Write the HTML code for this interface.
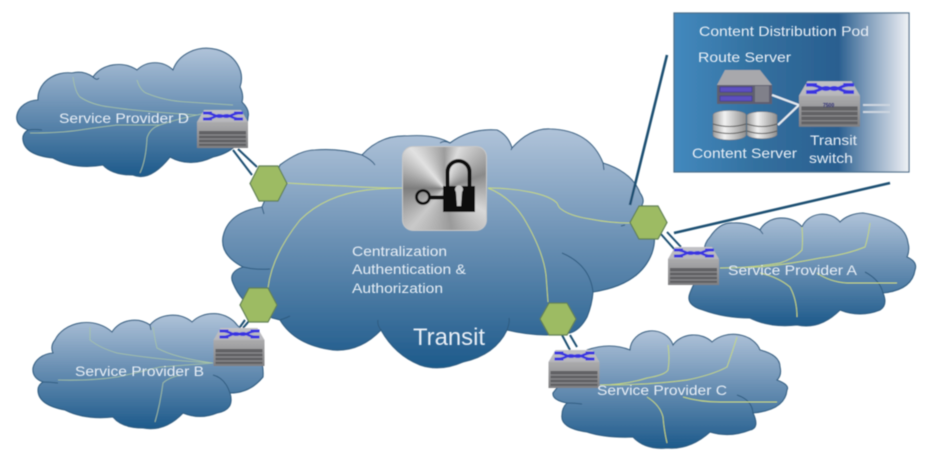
<!DOCTYPE html>
<html><head><meta charset="utf-8"><style>
html,body{margin:0;padding:0;background:#fff;width:929px;height:450px;overflow:hidden}
#w{position:relative;width:929px;height:450px}
svg{position:absolute;left:0;top:0}
text{font-family:"Liberation Sans",sans-serif;fill:#e9eff6}
.c{fill:url(#cg);stroke:#2f5c80;stroke-width:1.1}
.i{fill:none;stroke:#2f5c80;stroke-width:1}
.y{fill:none;stroke:#c6d87c;stroke-width:.95}
.f{fill:none;stroke:#a9c6a4;stroke-width:.8}
.h{fill:#9dbb63;stroke:#5f7f55;stroke-width:1.2}
.l{stroke:#1f4f72;fill:none}
</style></head><body><div id="w">
<svg width="929" height="450" viewBox="0 0 929 450" xmlns="http://www.w3.org/2000/svg">
<defs>
<linearGradient id="cg" x1="0" y1="0" x2="0" y2="1"><stop offset="0" stop-color="#b0c3d9"/><stop offset=".45" stop-color="#6d92b5"/><stop offset="1" stop-color="#1d5a8b"/></linearGradient>
<linearGradient id="pod" x1="0" y1="0" x2="1" y2="0"><stop offset="0" stop-color="#4389be"/><stop offset=".35" stop-color="#33709f"/><stop offset=".7" stop-color="#2a5f90"/><stop offset=".82" stop-color="#7f9cba"/><stop offset="1" stop-color="#f0f2f6"/></linearGradient>
<linearGradient id="sf" x1="0" y1="0" x2="0" y2="1"><stop offset="0" stop-color="#ababad"/><stop offset="1" stop-color="#808082"/></linearGradient>
<linearGradient id="st" x1="0" y1="0" x2="0" y2="1"><stop offset="0" stop-color="#c2c2c6"/><stop offset="1" stop-color="#9e9ea2"/></linearGradient>
<linearGradient id="db" x1="0" y1="0" x2="1" y2="0"><stop offset="0" stop-color="#9a9a9a"/><stop offset=".35" stop-color="#f2f2f2"/><stop offset="1" stop-color="#8f8f8f"/></linearGradient>
<filter id="b" x="-5%" y="-5%" width="110%" height="110%"><feGaussianBlur stdDeviation=".6"/></filter>
<symbol id="sw" viewBox="0 0 51 38">
<path d="M7 0H44L51 12V36H0V12Z" fill="url(#st)"/>
<rect x="0" y="12" width="51" height="26" fill="url(#sf)"/>
<rect x="2" y="21" width="47" height="15" fill="#626265"/>
<path d="M2 25H49M2 29H49M2 33H49" stroke="#8f8f91" stroke-width=".9"/>
<path d="M8 3C19 3 19 9 26 6C33 3 33 9 44 9M8 9C19 9 19 3 26 6C33 9 33 3 44 3" fill="none" stroke="#3b35e0" stroke-width="2.4"/>
<path d="M6 3H15M6 9H15M37 3H46M37 9H46" stroke="#3b35e0" stroke-width="3"/>
</symbol>
</defs>
<g filter="url(#b)">
<!-- Cloud D -->
<path class="c" d="M17 115A22 18 0 0 1 38 100A30 26 0 0 1 72 73A26 26 0 0 1 93 77A30 26 0 0 1 137 70A26 26 0 0 1 173 70A30 26 0 0 1 240 87Q244 95 242 102Q250 110 248 117Q245 150 213 157Q190 168 170 157Q150 182 133 175Q112 175 103 165Q75 170 53 158Q25 155 23 140Q22 134 28 130Q15 125 17 115Z"/>
<path class="i" d="M28 130Q35 129 42 130M93 77Q97 81 99 78"/>
<path class="f" d="M73 77Q75 92 80 97Q92 105 110 107Q135 111 197 115M137 80Q140 90 146 93Q165 101 187 102L233 105M30 133Q60 133 80 130Q100 127 117 125Q140 125 160 125Q180 118 207 113M140 173Q146 160 147 138Q150 128 160 125"/>
<!-- Cloud B -->
<path class="c" d="M33 368A22 18 0 0 1 53 353Q50 346 55 340A34 28 0 0 1 112 332A26 24 0 0 1 150 325A28 24 0 0 1 192 322A28 24 0 0 1 237 325Q265 350 263 377Q250 393 230 393Q235 410 217 413Q200 420 183 413Q165 432 143 428Q122 428 113 417Q85 420 65 410Q38 405 38 390Q38 385 43 382Q32 378 33 368Z"/>
<path class="i" d="M43 382Q50 382 58 383M213 375Q225 378 230 393M150 325L151 330"/>
<path class="f" d="M90 327Q90 335 90 340Q100 348 117 353Q160 360 213 363M153 327Q155 340 157 348Q175 358 213 363M58 380Q90 381 117 377Q140 372 160 367L213 363M155 422Q160 405 163 383Q168 378 180 375"/>
<!-- Cloud C -->
<path class="c" d="M587 350Q610 342 630 350A22 20 0 0 1 673 345A24 20 0 0 1 712 342A28 22 0 0 1 760 350Q780 355 780 367Q782 375 777 380Q790 385 787 390Q785 410 753 413Q760 428 750 430Q730 438 710 432Q690 450 667 448Q645 450 633 437Q605 438 587 432Q560 428 562 415Q562 408 567 403Q552 400 553 393Z"/>
<path class="i" d="M567 403Q575 403 582 404M737 395Q752 400 753 413"/>
<path class="y" d="M600 385Q625 385 647 378Q665 375 668 370Q670 358 668 345M600 385Q650 385 687 380Q712 375 727 367Q733 350 737 337M683 397Q700 402 720 402H777M647 397Q660 405 663 417Q664 430 667 443"/>
<!-- Cloud A -->
<path class="c" d="M703 310Q685 305 690 293Q695 280 707 263Q700 248 710 237Q720 222 733 223Q748 222 760 230A24 20 0 0 1 802 227A22 20 0 0 1 840 222A30 22 0 0 1 863 213Q905 220 908 243Q910 250 907 257Q918 262 915 270Q912 290 883 293Q888 305 880 310Q860 318 840 310Q820 330 797 325Q770 328 750 318Q725 318 703 310Z"/>
<path class="i" d="M865 272Q880 280 883 293M760 230L763 234"/>
<path class="y" d="M802 227Q803 240 802 250Q795 258 780 263Q750 268 720 268M870 223Q868 238 865 247Q845 255 820 258Q790 264 760 267L720 268M817 273Q830 282 847 283H897M760 273Q778 277 790 287Q797 300 797 317"/>
<!-- Connector lines -->
<path class="l" stroke-width="2" d="M238 149L257 167M233 150L252 175M660 233L675 250M667 232L681 247M562 335L570 350M570 335L577 347M240 327L245 320M243 328L249 321"/>
<!-- Main cloud -->
<path class="c" d="M280 165Q300 150 315 150Q340 148 362 155Q380 135 407 136Q435 134 450 143Q470 128 497 130Q508 135 512 148Q530 128 550 129Q590 130 603 163Q632 172 640 193Q645 200 642 205Q660 230 652 253Q640 285 593 292Q592 305 587 317Q580 330 570 333Q540 338 507 330Q495 355 463 362Q440 372 420 365Q395 355 381 330Q360 352 333 350Q295 345 280 320Q245 312 233 283Q228 272 243 267Q220 255 223 237Q228 212 262 207Z"/>
<path class="i" d="M262 207L264 214M243 267Q255 270 270 269M280 320Q286 318 290 316M381 330Q377 325 378 320M507 330Q510 322 509 318M362 155Q372 160 375 165M512 148L511 150M562 253Q590 265 593 292M603 163L604 170M625 225L621 226M450 143Q444 140 440 143"/>
<path class="y" d="M287 183Q320 185 345 186Q370 188 403 188M268 288Q272 255 300 220Q325 195 367 190Q385 188 403 188M488 188Q510 188 530 192Q550 196 557 203Q559 208 561 209Q570 216 590 219Q610 223 630 223M488 188Q510 197 523 217Q543 250 546 275L548 302"/>
<!-- Hexagons -->
<path class="h" d="M259 166H278L287 183.500L278 201H259L250 183.500Z"/>
<path class="h" d="M249 288H268L277 305L268 322H249L240 305Z"/>
<path class="h" d="M639 206H658L667 222.500L658 239H639L630 222.500Z"/>
<path class="h" d="M549 303H567L576 319L567 335H549L540 319Z"/>
<!-- Switches -->
<use href="#sw" x="197" y="110" width="51" height="38"/>
<use href="#sw" x="213" y="328" width="52" height="38"/>
<use href="#sw" x="548" y="350" width="52" height="38"/>
<use href="#sw" x="668" y="247" width="51" height="38"/>
<!-- Callout lines -->
<path class="l" stroke-width="2.6" d="M667 55L630 205M674 233L890 183"/>
<!-- Pod -->
<rect x="674" y="13" width="235" height="159" fill="url(#pod)" stroke="#4b6f8c" stroke-width="1.2"/>
<!-- Route server -->
<path d="M725 70H760L772 85H717Z" fill="#a8a8ac"/>
<rect x="717" y="85" width="55" height="19" fill="#5e5e70"/>
<path d="M720 87H752V92H720ZM720 96H752V101H720Z" fill="#5d50c0" stroke="#3a3190" stroke-width=".6"/>
<rect x="755" y="86" width="14" height="16" fill="#80808a"/>
<!-- DB -->
<g fill="url(#db)" stroke="#777" stroke-width=".5">
<path d="M713 115A16.500 4.500 0 0 1 746 115V135A16.500 5 0 0 1 713 135Z"/>
<path d="M747 115A15.500 4.500 0 0 1 777 115V135A15.500 5 0 0 1 747 135Z"/>
</g>
<path d="M713 124Q729.500 129 746 124M747 124Q762 129 777 124M713 131Q729.500 136 746 131M747 131Q762 136 777 131" fill="none" stroke="#555" stroke-width="1"/>
<path d="M772 95L799 105L778 125" fill="none" stroke="#e6ecf2" stroke-width="2"/>
<path d="M863 105H890M863 112H890" stroke="#cdd6e0" stroke-width="2"/>
<use href="#sw" x="799" y="80" width="61" height="48"/>
</g>
<g filter="url(#b)">
<foreignObject x="402" y="146" width="85" height="85"><div xmlns="http://www.w3.org/1999/xhtml" style="box-sizing:border-box;width:85px;height:85px;border-radius:11px;border:1px solid #c8c8c8;background:conic-gradient(from 20deg at 50% 50%,#dcdcdc,#8a8a8a 50deg,#d8d8d8 100deg,#9a9a9a 150deg,#c9c9c9 200deg,#7d7d7d 250deg,#e2e2e2 300deg,#9c9c9c 340deg,#dcdcdc)"></div></foreignObject>
<path d="M447.500 187V172A11 11 0 0 1 469.500 172V187" fill="none" stroke="#111" stroke-width="4"/>
<rect x="443" y="186" width="32" height="26" fill="#0d0d0d"/>
<path d="M456 192A4 4 0 1 1 462 192L461 206H457Z" fill="#c9c9c9"/>
<circle cx="423" cy="197" r="6.500" fill="none" stroke="#111" stroke-width="2.800"/>
<path d="M429 195.500H447V203H443V199.500H429Z" fill="#111"/>
<text x="699" y="36" font-size="14" textLength="170" lengthAdjust="spacingAndGlyphs">Content Distribution Pod</text>
<text x="698" y="62" font-size="14" textLength="93" lengthAdjust="spacingAndGlyphs">Route Server</text>
<text x="692" y="158" font-size="14" textLength="105" lengthAdjust="spacingAndGlyphs">Content Server</text>
<text x="810" y="145" font-size="14" textLength="47" lengthAdjust="spacingAndGlyphs">Transit</text>
<text x="809" y="163" font-size="14" textLength="44" lengthAdjust="spacingAndGlyphs">switch</text>
<text x="59" y="123" font-size="14" textLength="130" lengthAdjust="spacingAndGlyphs">Service Provider D</text>
<text x="75" y="376" font-size="14" textLength="129" lengthAdjust="spacingAndGlyphs">Service Provider B</text>
<text x="597" y="395" font-size="14" textLength="130" lengthAdjust="spacingAndGlyphs">Service Provider C</text>
<text x="728" y="275" font-size="14" textLength="129" lengthAdjust="spacingAndGlyphs">Service Provider A</text>
<text x="352" y="256" font-size="14" textLength="95" lengthAdjust="spacingAndGlyphs">Centralization</text>
<text x="352" y="274" font-size="14" textLength="114" lengthAdjust="spacingAndGlyphs">Authentication &amp;</text>
<text x="352" y="293" font-size="14" textLength="91" lengthAdjust="spacingAndGlyphs">Authorization</text>
<text x="413" y="345" font-size="24" textLength="72" lengthAdjust="spacingAndGlyphs">Transit</text>
<text x="823" y="107" font-size="5" font-weight="bold" style="fill:#2a2a70">7500</text>
</g>
</svg>
</div></body></html>
